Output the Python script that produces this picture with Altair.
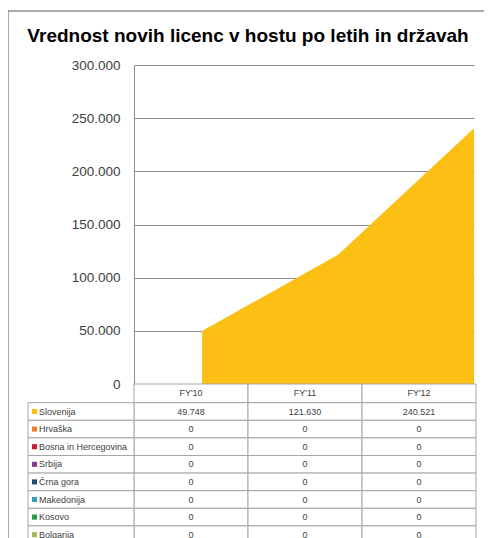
import altair as alt
import pandas as pd

categories = ["FY'10", "FY'11", "FY'12"]
series = ["Slovenija", "Hrvaška", "Bosna in Hercegovina", "Srbija", "Črna gora",
          "Makedonija", "Kosovo", "Bolgarija"]
colors = ["#FCBF13", "#ED7D31", "#C8202F", "#7E3F8F", "#1F4E79", "#31A0B8", "#23A048", "#9BBB59"]
values = {
    "Slovenija": [49748, 121630, 240521],
    "Hrvaška": [0, 0, 0],
    "Bosna in Hercegovina": [0, 0, 0],
    "Srbija": [0, 0, 0],
    "Črna gora": [0, 0, 0],
    "Makedonija": [0, 0, 0],
    "Kosovo": [0, 0, 0],
    "Bolgarija": [0, 0, 0],
}
y_ticks = [0, 50000, 100000, 150000, 200000, 250000, 300000]
title_text = "Vrednost novih licenc v hostu po letih in državah"

rows = []
for si, s in enumerate(series):
    for ci, c in enumerate(categories):
        v = values[s][ci]
        rows.append({"cat": c, "idx": ci, "series": s, "order": si, "value": v,
                     "label": f"{v:,}".replace(",", ".")})
df = pd.DataFrame(rows)
ser_df = pd.DataFrame({"series": series, "order": list(range(len(series)))})
cat_df = pd.DataFrame({"cat": categories})
one = pd.DataFrame({"a": [0]})

W, H = 340, 319
ROW0, ROWH = 337.7, 17.6
row_range = [ROW0, ROW0 + ROWH * len(series)]
col_range = [0, 342]
FONT = "Liberation Sans"
GRID = "#8C8C8C"
TBL = "#A6A6A6"

color_scale = alt.Scale(domain=series, range=colors)

area = alt.Chart(df).mark_area(opacity=1).encode(
    x=alt.X("idx:Q", axis=None, scale=alt.Scale(domain=[-0.5, 2], nice=False, zero=False)),
    y=alt.Y("value:Q", stack="zero",
            scale=alt.Scale(domain=[0, 300000], nice=False),
            axis=alt.Axis(values=y_ticks, title=None, grid=True, gridColor=GRID,
                          domain=True, domainColor=GRID, ticks=False, labelPadding=14,
                          labelFont=FONT, labelFontSize=13.5, labelColor="#404040",
                          labelExpr="replace(format(datum.value, ','), ',', '.')")),
    color=alt.Color("series:N", scale=color_scale, legend=None),
    order=alt.Order("order:Q"),
)

band_x = alt.Scale(type="band", domain=categories, range=col_range, paddingInner=0, paddingOuter=0)
band_y = alt.Scale(type="band", domain=series, range=row_range, paddingInner=0, paddingOuter=0)

cells = alt.Chart(df).mark_rect(fill="white", stroke=TBL, strokeWidth=1).encode(
    x=alt.X("cat:N", scale=band_x, axis=None),
    y=alt.Y("series:N", scale=band_y, axis=None),
)
cell_text = alt.Chart(df).mark_text(font=FONT, fontSize=9, color="#404040").encode(
    x=alt.X("cat:N", scale=band_x, axis=None),
    y=alt.Y("series:N", scale=band_y, axis=None),
    text="label:N",
)
header_cells = alt.Chart(cat_df).mark_rect(fill="white", stroke=TBL, strokeWidth=1).encode(
    x=alt.X("cat:N", scale=band_x, axis=None),
    y=alt.value(H), y2=alt.value(ROW0),
)
header_text = alt.Chart(cat_df).mark_text(font=FONT, fontSize=9, color="#404040").encode(
    x=alt.X("cat:N", scale=band_x, axis=None),
    y=alt.value((H + ROW0) / 2),
    text="cat:N",
)
label_cells = alt.Chart(ser_df).mark_rect(fill="white", stroke=TBL, strokeWidth=1).encode(
    x=alt.value(-106), x2=alt.value(0),
    y=alt.Y("series:N", scale=band_y, axis=None),
)
label_sq = alt.Chart(ser_df).mark_square(size=26, opacity=1).encode(
    x=alt.value(-99.5),
    y=alt.Y("series:N", scale=band_y, axis=None),
    color=alt.Color("series:N", scale=color_scale, legend=None),
)
label_text = alt.Chart(ser_df).mark_text(font=FONT, fontSize=9, color="#404040", align="left").encode(
    x=alt.value(-95),
    y=alt.Y("series:N", scale=band_y, axis=None),
    text="series:N",
)
frame = alt.Chart(one).mark_rect(fill=None, stroke="#595959", strokeWidth=1).encode(
    x=alt.value(-126), x2=alt.value(351), y=alt.value(-54), y2=alt.value(520),
)
title = alt.Chart(pd.DataFrame({"t": [title_text]})).mark_text(
    font=FONT, fontSize=19, fontWeight="bold", color="#000000", baseline="middle"
).encode(x=alt.value(114), y=alt.value(-29), text="t:N")

chart = alt.layer(
    frame, area, header_cells, header_text, cells, cell_text,
    label_cells, label_sq, label_text, title
).resolve_scale(x="independent", y="independent", color="shared").properties(
    width=W, height=H,
    autosize=alt.AutoSizeParams(type="none"),
    padding={"left": 126, "top": 57, "right": 10, "bottom": 160},
).configure_view(stroke=None)

chart.save("out.html", embed_options={"renderer": "svg", "actions": False})
